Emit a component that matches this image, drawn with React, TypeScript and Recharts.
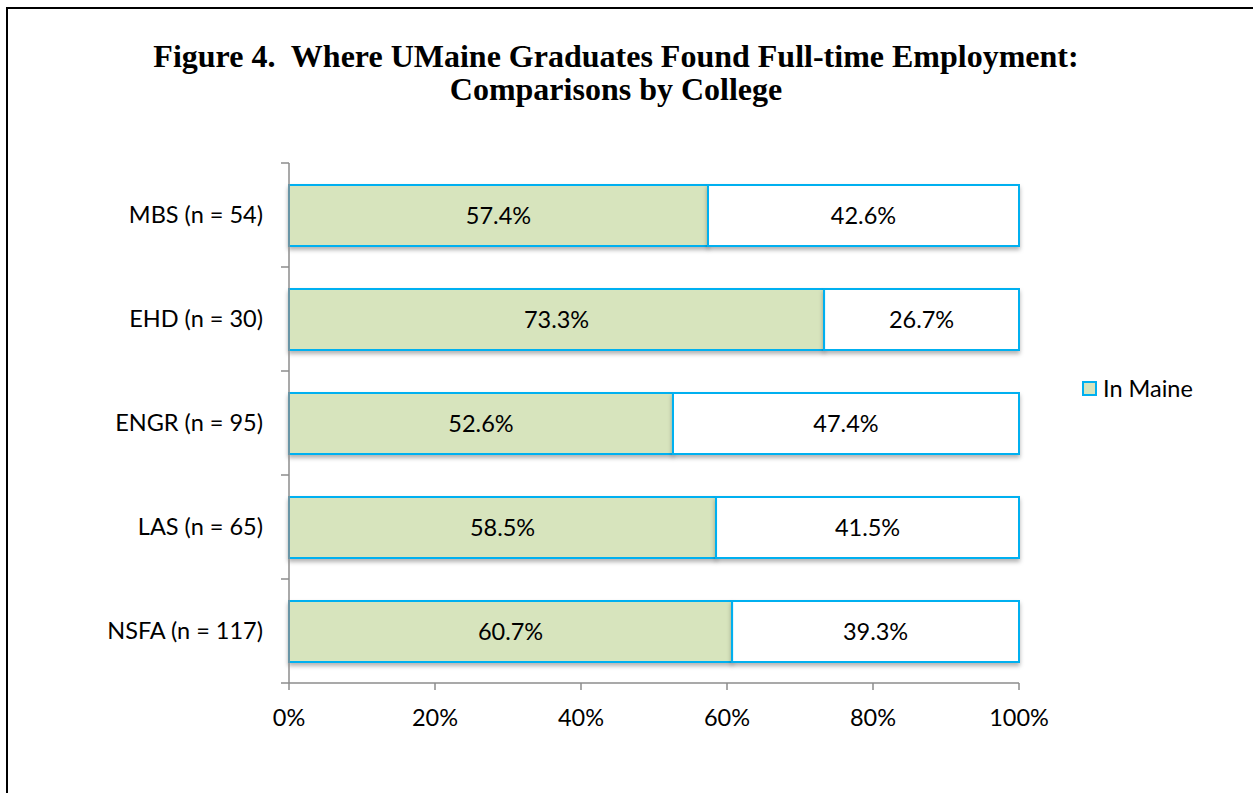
import React from 'react';
import { BarChart, Bar, XAxis, YAxis, Legend, LabelList } from 'recharts';

const colleges = ['MBS (n = 54)', 'EHD (n = 30)', 'ENGR (n = 95)', 'LAS (n = 65)', 'NSFA (n = 117)'];
const inMaine = [57.4, 73.3, 52.6, 58.5, 60.7];
const outsideMaine = [42.6, 26.7, 47.4, 41.5, 39.3];
const pctTicks = [0, 20, 40, 60, 80, 100];

const data = colleges.map((name, i) => ({ name, inMaine: inMaine[i], outside: outsideMaine[i] }));

const FONT = 'Lato, "Open Sans", sans-serif';
const FS = 23.5;
const AXIS = '#8c8c8c';
const CYAN = '#00B0F0';
const GREEN = '#D7E4BD';

const TICK_SIZE = 8;
const TICK_MARGIN = 18;

const ShadowRect = (props: any) => {
  const { x, y, width, height, fill } = props;
  if (!width || !height) return null;
  return (
    <rect x={x} y={y} width={width} height={height} fill={fill} stroke={CYAN} strokeWidth={2} filter="url(#barShadow)" />
  );
};

// category ticks drawn at band boundaries like Excel does
const CollegeTick = (props: any) => {
  const { x, y, payload, index, visibleTicksCount } = props;
  const half = props.bandHalf;
  const lx1 = x + TICK_MARGIN;
  const lx2 = lx1 + TICK_SIZE;
  return (
    <g>
      <text x={x} y={y} dy="0.35em" textAnchor="end" fontFamily={FONT} fontSize={FS} fill="#000">
        {payload.value}
      </text>
      <line x1={lx1} x2={lx2} y1={y - half} y2={y - half} stroke={AXIS} strokeWidth={1.5} />
      {index === visibleTicksCount - 1 && (
        <line x1={lx1} x2={lx2} y1={y + half} y2={y + half} stroke={AXIS} strokeWidth={1.5} />
      )}
    </g>
  );
};

const LegendContent = () => (
  <div style={{ display: 'flex', alignItems: 'center', fontFamily: FONT, fontSize: FS, color: '#000' }}>
    <span style={{ display: 'inline-block', width: 11, height: 11, background: GREEN, border: `2px solid ${CYAN}`, marginRight: 6 }} />
    <span>In Maine</span>
  </div>
);

const CHART_H = 793;
const MARGIN = { top: 163, right: 234, bottom: 60, left: 0 };
const X_AXIS_H = 50;
const PLOT_H = CHART_H - MARGIN.top - MARGIN.bottom - X_AXIS_H;

export default function App() {
  return (
    <div style={{ position: 'absolute', left: 0, top: 0, width: 1253, height: 793, background: '#fff', overflow: 'hidden' }}>
      <svg width={0} height={0} style={{ position: 'absolute' }}>
        <defs>
          <filter id="barShadow" x="-5%" y="-20%" width="110%" height="150%">
            <feDropShadow dx={0} dy={3} stdDeviation={2} floodColor="#000" floodOpacity={0.3} />
          </filter>
        </defs>
      </svg>
      <div style={{ position: 'absolute', left: 6, top: 7, width: 1300, height: 900, borderLeft: '2px solid #000', borderTop: '2px solid #000' }} />
      <div
        style={{
          position: 'absolute', left: 0, top: 40, width: 1232, textAlign: 'center',
          fontFamily: '"Liberation Serif", "Times New Roman", serif', fontWeight: 'bold', fontSize: 32, lineHeight: '33px', color: '#000',
        }}
      >
        Figure 4.&nbsp; Where UMaine Graduates Found Full-time Employment:<br />
        Comparisons by College
      </div>
      <div style={{ position: 'absolute', left: 0, top: 0 }}>
        <BarChart width={1253} height={CHART_H} data={data} layout="vertical" margin={MARGIN} barSize={61}>
          <XAxis
            type="number"
            domain={[0, 100]}
            ticks={pctTicks}
            tickFormatter={(v) => `${v}%`}
            height={X_AXIS_H}
            stroke={AXIS}
            strokeWidth={1.5}
            tickSize={7}
            tickMargin={19}
            tick={{ fill: '#000', fontFamily: FONT, fontSize: FS }}
            interval={0}
          />
          <YAxis
            type="category"
            dataKey="name"
            width={289}
            stroke={AXIS}
            strokeWidth={1.5}
            tickLine={false}
            tickSize={TICK_SIZE}
            tickMargin={TICK_MARGIN}
            interval={0}
            tick={<CollegeTick bandHalf={PLOT_H / colleges.length / 2} />}
          />
          <Legend
            layout="vertical"
            align="center"
            verticalAlign="middle"
            content={<LegendContent />}
            wrapperStyle={{ left: 1082, top: 374, width: 150 }}
          />
          <Bar dataKey="inMaine" name="In Maine" stackId="a" fill={GREEN} shape={<ShadowRect />} isAnimationActive={false}>
            <LabelList dataKey="inMaine" position="center" formatter={(v: any) => `${Number(v).toFixed(1)}%`} fill="#000" fontFamily={FONT} fontSize={FS} />
          </Bar>
          <Bar dataKey="outside" name="Outside Maine" stackId="a" fill="#fff" legendType="none" shape={<ShadowRect />} isAnimationActive={false}>
            <LabelList dataKey="outside" position="center" formatter={(v: any) => `${Number(v).toFixed(1)}%`} fill="#000" fontFamily={FONT} fontSize={FS} />
          </Bar>
        </BarChart>
      </div>
    </div>
  );
}
